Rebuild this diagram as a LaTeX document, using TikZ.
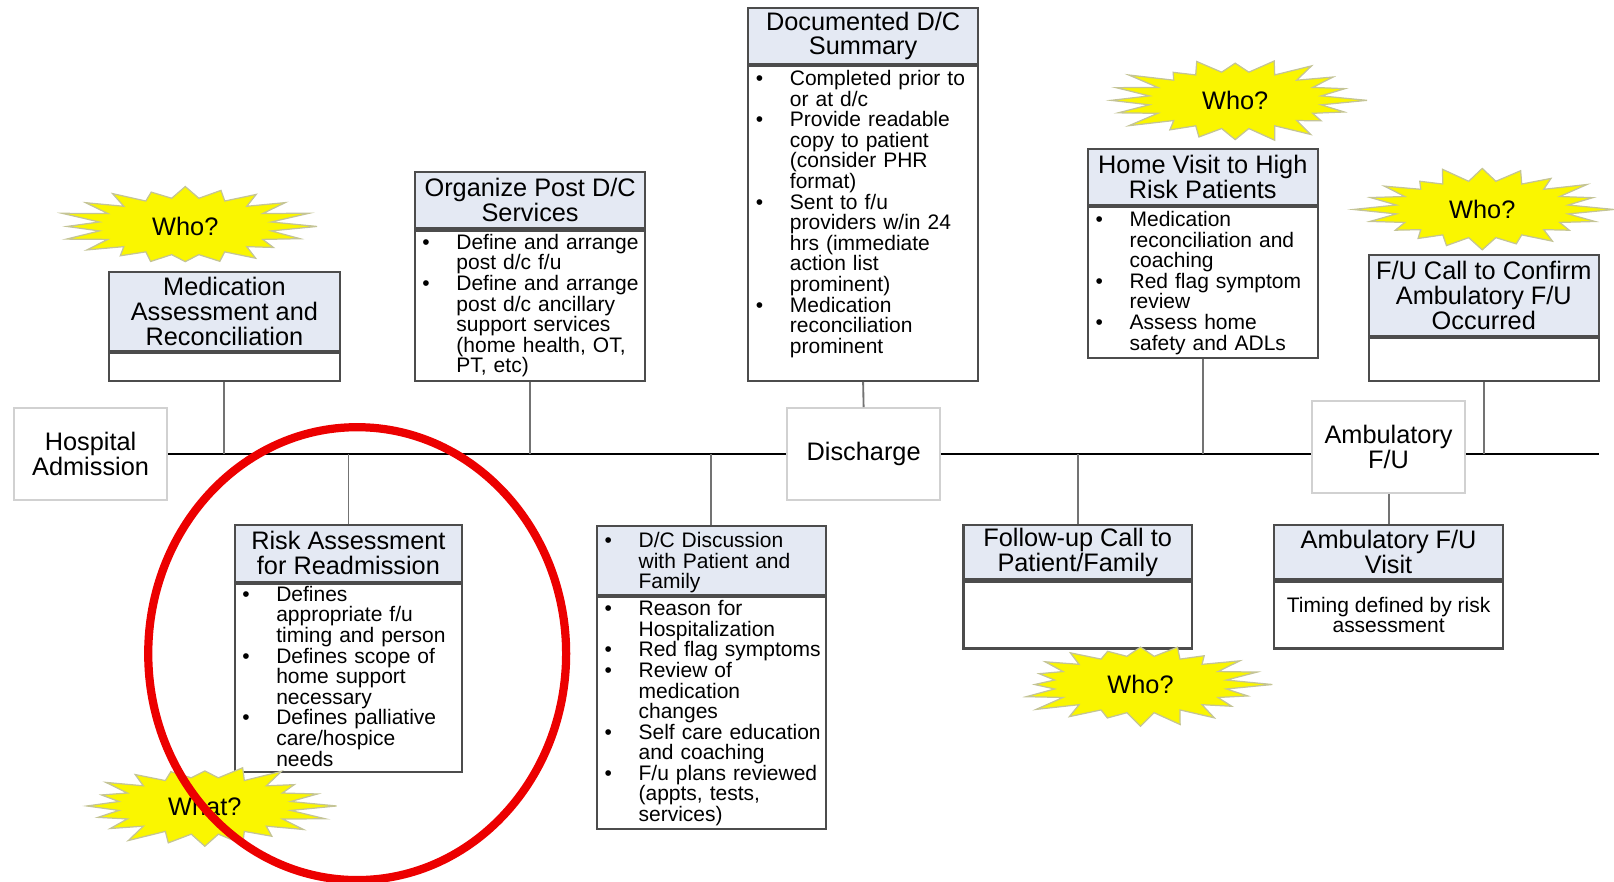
\documentclass[tikz,border=0pt]{standalone}
\usepackage{fontspec}
\setmainfont{Liberation Sans}

\definecolor{headblue}{RGB}{228,233,243}
\definecolor{starfill}{RGB}{250,246,0}
\definecolor{starline}{RGB}{196,196,150}
\definecolor{ringred}{RGB}{236,0,0}

\newcommand{\headfont}{\fontsize{12.3pt}{12pt}\selectfont}
\newcommand{\listfont}{\fontsize{10.2pt}{10pt}\selectfont}
\newcommand{\bitem}[1]{\hangindent=16.5pt\hangafter=1\noindent\makebox[16.5pt][l]{\textbullet}{\let\\\newline#1}\par}
% burst round a coordinate: #1 centre, #2 seed
\newcommand{\drawburst}[2]{%
  \pgfmathsetseed{#2}%
  \filldraw[burst] ([shift={(#1)}]0:64pt and 21pt)
    \foreach \k [evaluate=\k as \f using {ifthenelse(isodd(\k),0.66,0.8+0.2*rnd)}] in {1,...,39}{
      -- ([shift={(#1)}]{\k*9}:{64*\f pt} and {21*\f pt})} -- cycle;}

\begin{document}
\begin{tikzpicture}[x=0.5pt,y=-0.5pt,
    cardhead/.style={draw=black!70,line width=1pt,fill=headblue,inner sep=0pt,align=center,font=\headfont},
    cardbody/.style={draw=black!70,line width=1pt,fill=white,inner sep=0pt,anchor=north,align=center,font=\listfont},
    cardlist/.style={inner sep=0pt,anchor=north west,align=left,font=\listfont,text width=106pt},
    stopbox/.style={draw=black!18,line width=1pt,fill=white,align=center,font=\headfont,minimum width=74pt,minimum height=44.5pt},
    burst/.style={draw=starline,fill=starfill,line width=0.6pt},
    bursttext/.style={inner sep=0pt,font=\headfont},
    stem/.style={draw=black!55,line width=0.9pt},
    timeline/.style={draw=black,line width=1.3pt},
    ring/.style={draw=ringred,line width=4pt}]
    \useasboundingbox (0,0) rectangle (1568,856);

    %Nodes
    \node[stopbox] at (88,441)      (hosp) {Hospital\\Admission};
    \node[stopbox] at (839,441)     (dis)  {Discharge};
    \node[stopbox] at (1349,434.5)  (amb)  {Ambulatory\\F/U};
    \coordinate (lineend) at (1553,441);

    \node[cardhead,minimum width=112pt,minimum height=38.5pt] at (218,302.5) (medH) {Medication\\Assessment and\\Reconciliation};
    \node[cardbody,minimum width=112pt,minimum height=13.5pt] at (medH.south) (medB) {};

    \node[cardhead,minimum width=112pt,minimum height=27.5pt] at (515,194.5) (orgH) {Organize Post D/C\\Services};
    \node[cardbody,minimum width=112pt,minimum height=73pt] at (orgH.south) (orgB) {};
    \node[cardlist] at ([xshift=4pt,yshift=-2pt]orgB.north west) (orgT) {%
        \bitem{Define and arrange\\post d/c f/u}
        \bitem{Define and arrange\\post d/c ancillary\\support services\\(home health, OT,\\PT, etc)}};

    \node[cardhead,minimum width=111.5pt,minimum height=27pt] at (838.5,35) (docH) {Documented D/C\\Summary};
    \node[cardbody,minimum width=111.5pt,minimum height=153pt] at (docH.south) (docB) {};
    \node[cardlist] at ([xshift=4pt,yshift=-2.5pt]docB.north west) (docT) {%
        \bitem{Completed prior to\\or at d/c}
        \bitem{Provide readable\\copy to patient\\(consider PHR\\format)}
        \bitem{Sent to f/u\\providers w/in 24\\hrs (immediate\\action list\\prominent)}
        \bitem{Medication\\reconciliation\\prominent}};

    \node[cardhead,minimum width=111.5pt,minimum height=27pt] at (1168.5,172) (homeH) {Home Visit to High\\Risk Patients};
    \node[cardbody,minimum width=111.5pt,minimum height=73.5pt] at (homeH.south) (homeB) {};
    \node[cardlist] at ([xshift=4pt,yshift=-2.5pt]homeB.north west) (homeT) {%
        \bitem{Medication\\reconciliation and\\coaching}
        \bitem{Red flag symptom\\review}
        \bitem{Assess home\\safety and ADLs}};

    \node[cardhead,minimum width=111.5pt,minimum height=39pt] at (1441.5,287) (callH) {F/U Call to Confirm\\Ambulatory F/U\\Occurred};
    \node[cardbody,minimum width=111.5pt,minimum height=21pt] at (callH.south) (callB) {};

    \node[cardhead,minimum width=110.5pt,minimum height=27.5pt] at (338.5,537.5) (riskH) {Risk Assessment\\for Readmission};
    \node[cardbody,minimum width=110.5pt,minimum height=91.5pt] at (riskH.south) (riskB) {};
    \node[cardlist] at ([xshift=4pt,yshift=-1.5pt]riskB.north west) (riskT) {%
        \bitem{Defines\\appropriate f/u\\timing and person}
        \bitem{Defines scope of\\home support\\necessary}
        \bitem{Defines palliative\\care/hospice\\needs}};

    \node[cardhead,minimum width=111pt,minimum height=33.5pt] at (691,544.5) (dcH) {};
    \node[cardlist] at ([xshift=4pt,yshift=-3.5pt]dcH.north west) (dcHT) {%
        \bitem{D/C Discussion\\with Patient and\\Family}};
    \node[cardbody,minimum width=111pt,minimum height=112.5pt] at (dcH.south) (dcB) {};
    \node[cardlist] at ([xshift=4pt,yshift=-2pt]dcB.north west) (dcT) {%
        \bitem{Reason for\\Hospitalization}
        \bitem{Red flag symptoms}
        \bitem{Review of\\medication\\changes}
        \bitem{Self care education\\and coaching}
        \bitem{F/u plans reviewed\\(appts, tests,\\services)}};

    \node[cardhead,minimum width=111pt,minimum height=26.5pt] at (1047,536.5) (callfH) {Follow-up Call to\\Patient/Family};
    \node[cardbody,minimum width=111pt,minimum height=32.5pt] at (callfH.south) (callfB) {};

    \node[cardhead,minimum width=111pt,minimum height=26.5pt] at (1349,536.5) (visitH) {Ambulatory F/U\\Visit};
    \node[cardbody,minimum width=111pt,minimum height=32.5pt] at (visitH.south) (visitB) {Timing defined by risk\\assessment};

    %Lines
    \draw[timeline] (hosp.east) -- (dis.west);
    \draw[timeline] (dis.east)  -- (dis.east -| amb.west);
    \draw[timeline] (dis.east -| amb.east) -- (lineend);
    \draw[stem] (medB.south)   -- (medB.south |- lineend);
    \draw[stem] (orgB.south)   -- (orgB.south |- lineend);
    \draw[stem] (docB.south)   -- (dis.north);
    \draw[stem] (homeB.south)  -- (homeB.south |- lineend);
    \draw[stem] (callB.south)  -- (callB.south |- lineend);
    \draw[stem] (riskH.north)  -- (riskH.north |- lineend);
    \draw[stem] (dcH.north)    -- (dcH.north |- lineend);
    \draw[stem] (callfH.north) -- (callfH.north |- lineend);
    \draw[stem] (amb.south)    -- (visitH.north);

    %Stars
    \coordinate (who1c) at (180,220);
    \coordinate (who2c) at (1200,97.5);
    \coordinate (who3c) at (1440,203.5);
    \coordinate (who4c) at (1108,665);
    \coordinate (whatc) at (199,783);
    \drawburst{who1c}{11}
    \drawburst{who2c}{23}
    \drawburst{who3c}{37}
    \drawburst{who4c}{53}
    \drawburst{whatc}{71}
    \node[bursttext] at (who1c) (who1) {Who?};
    \node[bursttext] at (who2c) (who2) {Who?};
    \node[bursttext] at (who3c) (who3) {Who?};
    \node[bursttext] at (who4c) (who4) {Who?};
    \node[bursttext] at (whatc) (what) {What?};

    %Ring
    \draw[ring] (347,635) ellipse [x radius=101.5pt, y radius=110pt];
\end{tikzpicture}
\end{document}
